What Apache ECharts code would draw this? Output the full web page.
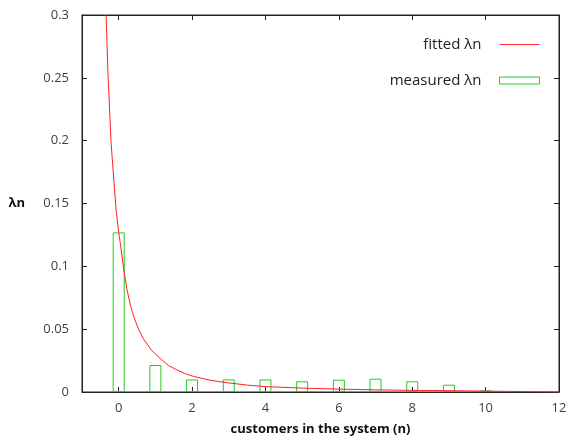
<!DOCTYPE html>
<html>
<head>
    <meta charset="utf-8">
    <title>lambda n</title>
    <script src="https://cdn.jsdelivr.net/npm/echarts@6/dist/echarts.min.js"></script>
    <style>
        html, body { margin: 0; padding: 0; background: #fff; }
        #chart1 { width: 568px; height: 437px; }
    </style>
</head>
<body>
<div id="chart1"></div>
<script>
    // measured lambda_n per number of customers
    var customers = [0, 1, 2, 3, 4, 5, 6, 7, 8, 9, 10];
    var measured = [0.127, 0.0215, 0.010, 0.010, 0.010, 0.0085, 0.0098, 0.0106, 0.0085, 0.0058, 0.0013];

    // fitted curve
    var fitX = [-0.343, -0.289, -0.207, -0.071, 0, 0.046, 0.136, 0.23, 0.32, 0.41, 0.54, 0.68, 0.9, 1.14, 1.36, 1.59, 1.8, 2.04, 2.5, 2.95, 3.5, 4, 5, 6, 7, 8, 8.55, 8.56, 12];
    var fitY = [0.30, 0.251, 0.198, 0.145, 0.127, 0.118, 0.098, 0.081, 0.069, 0.060, 0.050, 0.042, 0.033, 0.0265, 0.021, 0.0175, 0.0148, 0.0124, 0.0093, 0.0074, 0.0055, 0.0043, 0.0031, 0.0023, 0.0017, 0.0013, 0.0012, 0, 0];

    var xTicks = [0, 2, 4, 6, 8, 10, 12];

    var barData = customers.map(function (c, i) { return [c, measured[i]]; });
    var fitData = fitX.map(function (x, i) { return [x, fitY[i]]; });

    var font = '"Open Sans", "DejaVu Sans", sans-serif';
    var myChart1 = echarts.init(document.getElementById('chart1'));
    myChart1.setOption({
        animation: false,
        textStyle: { fontFamily: font },
        grid: {
            left: 82, right: 9, top: 15, bottom: 45,
            outerBoundsMode: 'none',
            show: true, borderColor: '#222', borderWidth: 1
        },
        legend: {
            orient: 'vertical',
            right: 23,
            top: 31,
            align: 'right',
            itemWidth: 40,
            itemHeight: 7,
            itemGap: 19,
            textStyle: { fontSize: 15, color: '#222', fontFamily: font, lineHeight: 17, padding: [0, 13, 0, 0] },
            data: [
                { name: 'fitted λn', icon: 'path://M0,0 L40,0 L40,1 L0,1 Z', itemStyle: { color: '#ff3030' } },
                { name: 'measured λn', icon: 'rect', itemStyle: { color: 'transparent', borderColor: '#22cc22', borderWidth: 1 } }
            ]
        },
        xAxis: [{
            type: 'value',
            min: -1, max: 12,
            name: 'customers in the system (n)',
            nameLocation: 'middle',
            nameGap: 31,
            nameTextStyle: { fontSize: 13, fontWeight: 'bold', color: '#111', fontFamily: font },
            axisLine: { show: true, onZero: false, lineStyle: { color: '#222' } },
            axisTick: { show: true, inside: true, length: 5, customValues: xTicks, lineStyle: { color: '#222' } },
            axisLabel: { customValues: xTicks, fontSize: 13, color: '#404040', margin: 10 },
            splitLine: { show: false }
        }, {
            type: 'value',
            position: 'top',
            min: -1, max: 12,
            axisLine: { show: true, onZero: false, lineStyle: { color: '#222' } },
            axisTick: { show: true, inside: true, length: 5, customValues: xTicks, lineStyle: { color: '#222' } },
            axisLabel: { show: false },
            splitLine: { show: false }
        }],
        yAxis: [{
            type: 'value',
            min: 0, max: 0.3, interval: 0.05,
            name: 'λn',
            nameLocation: 'middle',
            nameRotate: 0,
            nameGap: 57,
            nameTextStyle: { fontSize: 13, fontWeight: 'bold', color: '#111', fontFamily: font },
            axisLine: { show: true, onZero: false, lineStyle: { color: '#222' } },
            axisTick: { show: true, inside: true, length: 5, lineStyle: { color: '#222' } },
            axisLabel: { fontSize: 13, color: '#404040', margin: 13 },
            splitLine: { show: false }
        }, {
            type: 'value',
            position: 'right',
            min: 0, max: 0.3, interval: 0.05,
            axisLine: { show: true, onZero: false, lineStyle: { color: '#222' } },
            axisTick: { show: true, inside: true, length: 5, lineStyle: { color: '#222' } },
            axisLabel: { show: false },
            splitLine: { show: false }
        }],
        series: [
            {
                name: 'measured λn',
                type: 'bar',
                barWidth: 12,
                data: barData,
                itemStyle: { color: 'transparent', borderColor: '#22cc22', borderWidth: 1 },
                z: 2
            },
            {
                name: 'fitted λn',
                type: 'line',
                data: fitData,
                symbol: 'none',
                smooth: false,
                lineStyle: { color: '#ff2020', width: 1 },
                itemStyle: { color: '#ff2020' },
                z: 3
            }
        ]
    });
</script>
</body>
</html>
